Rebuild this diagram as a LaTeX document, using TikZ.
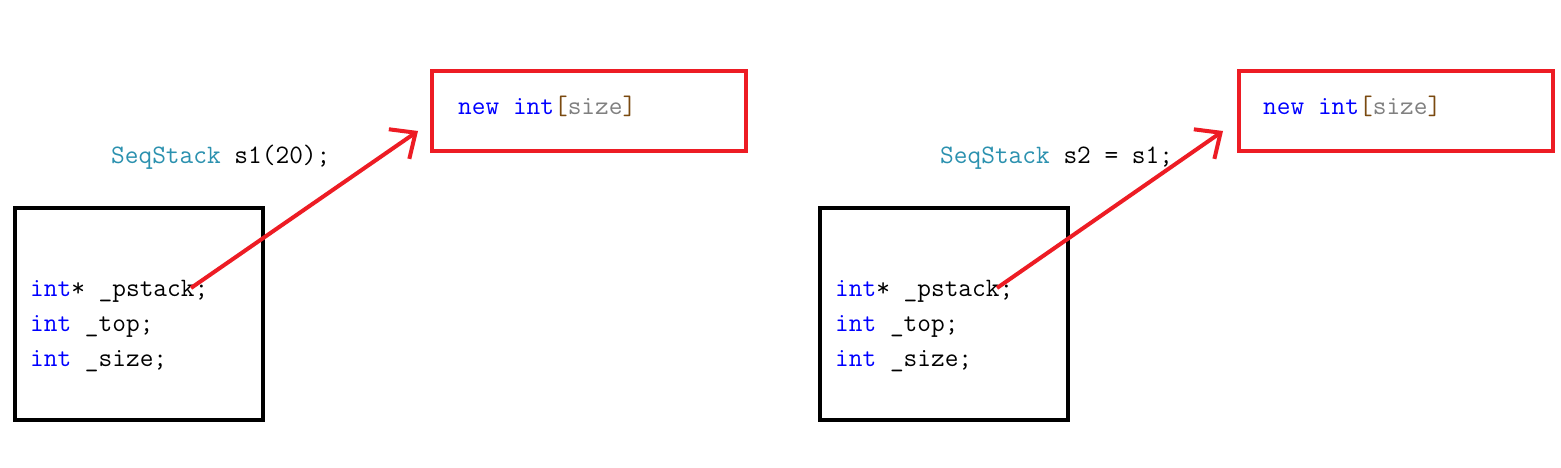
\documentclass[tikz,border=0pt]{standalone}
\usetikzlibrary{arrows.meta}
\definecolor{pred}{HTML}{ED1C24}
\definecolor{clsteal}{HTML}{2B91AF}
\definecolor{kwblue}{HTML}{0000FF}
\definecolor{brk}{HTML}{7A4A10}
\definecolor{idgray}{HTML}{808080}
\tikzset{
  code/.style={anchor=base west, inner sep=0pt, font=\ttfamily\fontsize{26.6}{35}\selectfont},
  heapbox/.style={draw=pred, line width=4pt, minimum width=314pt, minimum height=80pt, anchor=north west, inner sep=0pt, outer sep=0pt},
  objbox/.style={draw=black, line width=4.5pt, minimum width=248pt, minimum height=212pt, anchor=north west, inner sep=0pt, outer sep=0pt},
  ptr/.style={draw=pred, line width=4pt, -{Straight Barb[length=20pt,width=36pt,line width=4pt]}}
}
\newcommand{\kw}[1]{\textcolor{kwblue}{#1}}
\begin{document}
\begin{tikzpicture}[x=1pt,y=-1pt]
\useasboundingbox[fill=white] (0,0) rectangle (1561,468);
% left group
\node[heapbox] (heapA) at (432,71) {};
\node[code] (newA) at (458,115) {\kw{new} \kw{int}\textcolor{brk}{[}\textcolor{idgray}{size}\textcolor{brk}{]}};
\node[code] (declA) at (111,164) {\textcolor{clsteal}{SeqStack} s1(20);};
\node[objbox] (objA) at (15,208) {};
\node[code] (pA) at (30,296) {\kw{int}* \_pstack;};
\node[code] (tA) at (30,331) {\kw{int} \_top;};
\node[code] (sA) at (30,366) {\kw{int} \_size;};
\coordinate (fromA) at (191,288);
\coordinate (toA) at (418,131);
\draw[ptr] (fromA) -- (toA);
% right group
\node[heapbox] (heapB) at (1238.5,71.5) {};
\node[code] (newB) at (1263,115) {\kw{new} \kw{int}\textcolor{brk}{[}\textcolor{idgray}{size}\textcolor{brk}{]}};
\node[code] (declB) at (940,164) {\textcolor{clsteal}{SeqStack} s2 = s1;};
\node[objbox] (objB) at (820,208) {};
\node[code] (pB) at (835,296) {\kw{int}* \_pstack;};
\node[code] (tB) at (835,331) {\kw{int} \_top;};
\node[code] (sB) at (835,366) {\kw{int} \_size;};
\coordinate (fromB) at (997,288);
\coordinate (toB) at (1223,131);
\draw[ptr] (fromB) -- (toB);
\end{tikzpicture}
\end{document}
